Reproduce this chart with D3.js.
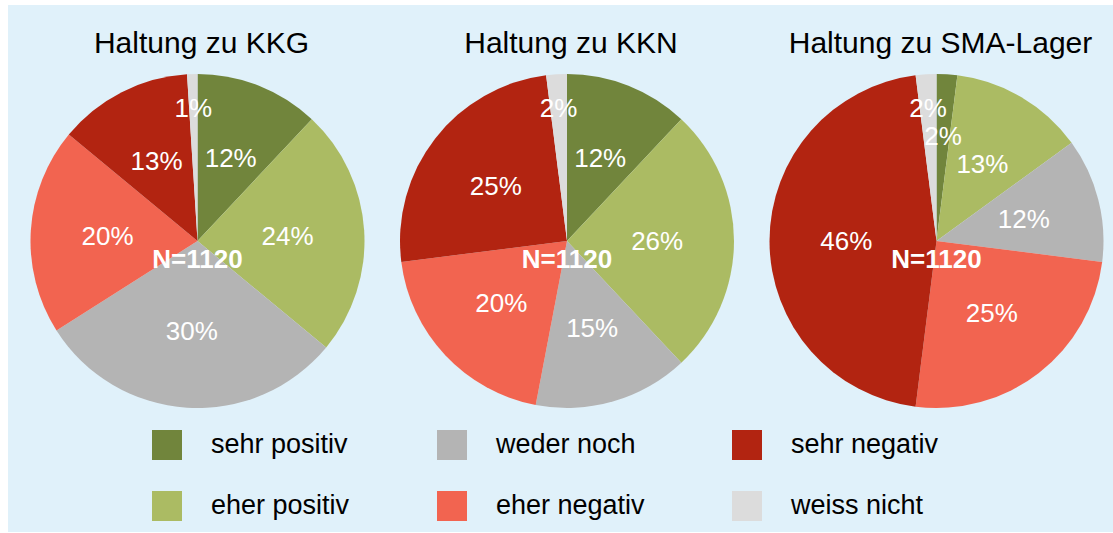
<!DOCTYPE html>
<html>
<head>
<meta charset="utf-8">
<script src="https://cdn.jsdelivr.net/npm/d3@7"></script>
<style>
	body { margin: 0; background: #ffffff; }
	text { font-family: "Liberation Sans", Arial, Helvetica, sans-serif; }
</style>
</head>
<body>
<div id="chart"></div>
<script>
var categories = ['sehr positiv', 'eher positiv', 'weder noch', 'eher negativ', 'sehr negativ', 'weiss nicht']
var titles = ['Haltung zu KKG', 'Haltung zu KKN', 'Haltung zu SMA-Lager']
var kkg = [12, 24, 30, 20, 13, 1]
var kkn = [12, 26, 15, 20, 25, 2]
var sma = [2, 13, 12, 25, 46, 2]
var sampleSize = 1120

var color = ['#71853c', '#abbb63', '#b4b4b4', '#f26450', '#b22411', '#dcdcdc']

var width = 1113
var height = 533
var radius = 167
var labelFont = 26

var svg = d3.select('#chart')
			.append('svg')
				.attr('width', width)
				.attr('height', height)

svg.append('rect')
	.attr('x', 8)
	.attr('y', 5)
	.attr('width', width - 8)
	.attr('height', height - 6)
	.attr('fill', '#e0f1fa')

var xPie = d3.scalePoint()
	.domain([0, 1, 2])
	.range([197.5, 936.5])

var cy = 241

var pie = d3.pie()
	.value(function(d) { return d })
	.sort(null)

var arc = d3.arc()
	.innerRadius(0)
	.outerRadius(radius)

// rough text box, good enough to keep small labels apart
function box(p, txt) {
	var w = txt.length * 0.55 * labelFont
	var h = labelFont * 1.0
	return {x0: p[0] - w / 2, x1: p[0] + w / 2, y0: p[1] - h / 2, y1: p[1] + h / 2}
}
function overlaps(a, b) {
	return a.x0 < b.x1 && b.x0 < a.x1 && a.y0 < b.y1 && b.y0 < a.y1
}
function polar(d, r) {
	var a = (d.startAngle + d.endAngle) / 2
	return [Math.sin(a) * r, -Math.cos(a) * r]
}

function drawPie(values, i) {
	var g = svg.append('g')
		.attr('transform', 'translate(' + xPie(i) + ',' + cy + ')')

	var arcs = pie(values)

	g.selectAll('path')
		.data(arcs)
		.enter().append('path')
		.attr('d', arc)
		.attr('fill', function(d, j) { return color[j] })

	// label positions: big slices halfway out, thin ones further out
	var placed = []
	var pos = []
	arcs.forEach(function(d, j) {
		if (d.value >= 5) {
			pos[j] = polar(d, radius * 0.54)
			placed.push(box(pos[j], d.value + '%'))
		}
	})
	for (var j = arcs.length - 1; j >= 0; j--) {
		var d = arcs[j]
		if (d.value >= 5) continue
		var r = radius * 0.8
		var p = polar(d, r)
		while (r > radius * 0.4 && placed.some(function(b) { return overlaps(b, box(p, d.value + '%')) })) {
			r -= 4
			p = polar(d, r)
		}
		pos[j] = p
		placed.push(box(p, d.value + '%'))
	}

	g.selectAll('text.pct')
		.data(arcs)
		.enter().append('text')
		.attr('class', 'pct')
		.attr('x', function(d, j) { return pos[j][0] })
		.attr('y', function(d, j) { return pos[j][1] })
		.attr('dy', '0.36em')
		.attr('text-anchor', 'middle')
		.attr('fill', '#ffffff')
		.style('font-size', labelFont + 'px')
		.text(function(d) { return d.value + '%' })

	g.append('text')
		.attr('x', 0)
		.attr('y', 18)
		.attr('dy', '0.36em')
		.attr('text-anchor', 'middle')
		.attr('fill', '#ffffff')
		.style('font-size', '26px')
		.style('font-weight', 'bold')
		.text('N=' + sampleSize)

	svg.append('text')
		.attr('x', xPie(i) + 4)
		.attr('y', 53)
		.attr('text-anchor', 'middle')
		.attr('fill', '#000000')
		.style('font-size', '30px')
		.text(titles[i])
}

[kkg, kkn, sma].forEach(drawPie)

// legend, two rows, filled column by column
var xLeg = d3.scaleOrdinal()
	.domain([0, 1, 2])
	.range([152, 437, 732])
var yLeg = d3.scalePoint()
	.domain([0, 1])
	.range([430, 491])

var leg = svg.selectAll('g.legend')
	.data(categories)
	.enter().append('g')
	.attr('class', 'legend')
	.attr('transform', function(d, i) {
		return 'translate(' + xLeg(Math.floor(i / 2)) + ',' + yLeg(i % 2) + ')'
	})

leg.append('rect')
	.attr('width', 30)
	.attr('height', 30)
	.attr('fill', function(d, i) { return color[i] })

leg.append('text')
	.attr('x', 59)
	.attr('y', 23)
	.attr('fill', '#000000')
	.style('font-size', '27px')
	.text(function(d) { return d })
</script>
</body>
</html>
